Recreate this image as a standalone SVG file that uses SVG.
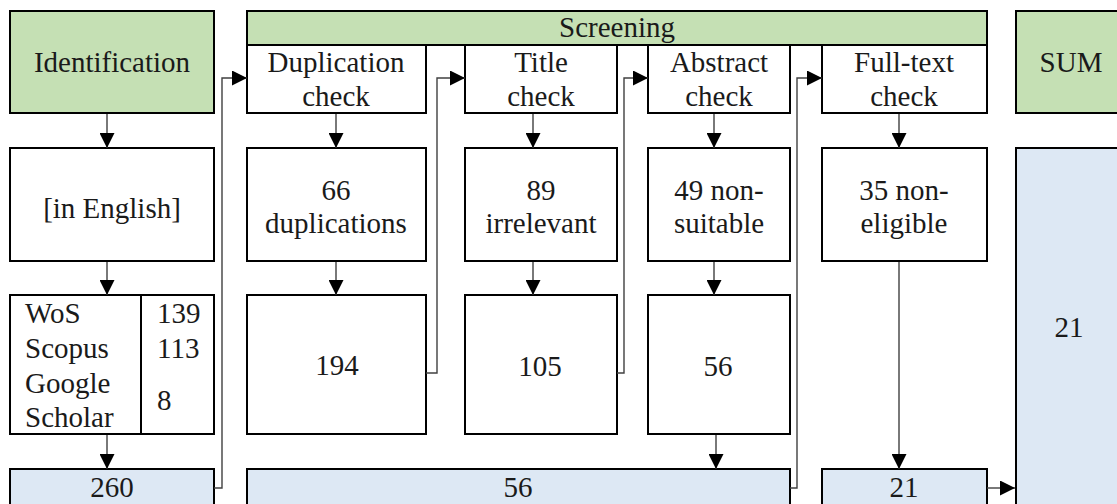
<svg xmlns="http://www.w3.org/2000/svg" width="1117" height="504" viewBox="0 0 1117 504">
  <defs>
    <marker id="arrow" viewBox="0 0 15 15" refX="15" refY="7.5" markerWidth="15" markerHeight="15" markerUnits="userSpaceOnUse" orient="auto">
      <path d="M0,0 L15,7.5 L0,15 Z" fill="#000"/>
    </marker>
    <style>
      .box { stroke: #000; stroke-width: 2; }
      .green { fill: #c5e0b4; }
      .white { fill: #fff; }
      .blue { fill: #dde8f4; }
      text { font-family: 'Liberation Serif', 'Times New Roman', serif; font-size: 29px; fill: #1a1a1a; }
      .c { text-anchor: middle; }
      .link { fill: none; stroke: #404040; stroke-width: 1.4; marker-end: url(#arrow); }
    </style>
  </defs>
  <rect width="1117" height="504" fill="#fff"/>

  <!-- Stage headers -->
  <g id="identification">
    <rect class="box green" x="10" y="11" width="204" height="102"/>
    <text class="c" x="112" y="72">Identification</text>
  </g>
  <g id="screening">
    <rect class="box green" x="247" y="11" width="740" height="34"/>
    <text class="c" x="617" y="37">Screening</text>
  </g>
  <g id="duplication-check">
    <rect class="box white" x="247" y="45" width="179" height="68"/>
    <text class="c" x="336" y="72">Duplication</text>
    <text class="c" x="336" y="106">check</text>
  </g>
  <g id="title-check">
    <rect class="box white" x="465" y="45" width="152" height="68"/>
    <text class="c" x="541" y="72">Title</text>
    <text class="c" x="541" y="106">check</text>
  </g>
  <g id="abstract-check">
    <rect class="box white" x="648" y="45" width="142" height="68"/>
    <text class="c" x="719" y="72">Abstract</text>
    <text class="c" x="719" y="106">check</text>
  </g>
  <g id="fulltext-check">
    <rect class="box white" x="822" y="45" width="165" height="68"/>
    <text class="c" x="904" y="72">Full-text</text>
    <text class="c" x="904" y="106">check</text>
  </g>
  <g id="sum">
    <rect class="box green" x="1016" y="11" width="112" height="102"/>
    <text class="c" x="1071" y="72">SUM</text>
  </g>

  <!-- Criteria / exclusions -->
  <g id="in-english">
    <rect class="box white" x="10" y="148" width="204" height="113"/>
    <text class="c" x="112" y="218">[in English]</text>
  </g>
  <g id="duplications">
    <rect class="box white" x="247" y="148" width="179" height="113"/>
    <text class="c" x="336" y="200">66</text>
    <text class="c" x="336" y="233">duplications</text>
  </g>
  <g id="irrelevant">
    <rect class="box white" x="465" y="148" width="152" height="113"/>
    <text class="c" x="541" y="200">89</text>
    <text class="c" x="541" y="233">irrelevant</text>
  </g>
  <g id="non-suitable">
    <rect class="box white" x="648" y="148" width="142" height="113"/>
    <text class="c" x="719" y="200">49 non-</text>
    <text class="c" x="719" y="233">suitable</text>
  </g>
  <g id="non-eligible">
    <rect class="box white" x="822" y="148" width="165" height="113"/>
    <text class="c" x="904" y="200">35 non-</text>
    <text class="c" x="904" y="233">eligible</text>
  </g>
  <g id="sum-total">
    <rect class="box blue" x="1016" y="148" width="112" height="370"/>
    <text class="c" x="1069" y="337">21</text>
  </g>

  <!-- Record counts -->
  <g id="sources">
    <rect class="box white" x="10" y="295" width="204" height="139"/>
    <line x1="141" y1="295" x2="141" y2="434" stroke="#000" stroke-width="2"/>
    <text x="25" y="323">WoS</text>
    <text x="25" y="358">Scopus</text>
    <text x="25" y="393">Google</text>
    <text x="25" y="427">Scholar</text>
    <text x="157" y="323">139</text>
    <text x="157" y="358">113</text>
    <text x="157" y="410">8</text>
  </g>
  <g id="after-duplication">
    <rect class="box white" x="247" y="295" width="179" height="139"/>
    <text class="c" x="337" y="375">194</text>
  </g>
  <g id="after-title">
    <rect class="box white" x="465" y="295" width="152" height="139"/>
    <text class="c" x="540" y="376">105</text>
  </g>
  <g id="after-abstract">
    <rect class="box white" x="648" y="295" width="142" height="139"/>
    <text class="c" x="718" y="376">56</text>
  </g>

  <!-- Stage totals -->
  <g id="total-identified">
    <rect class="box blue" x="10" y="469" width="204" height="50"/>
    <text class="c" x="112" y="497">260</text>
  </g>
  <g id="total-screened">
    <rect class="box blue" x="247" y="469" width="543" height="50"/>
    <text class="c" x="518" y="497">56</text>
  </g>
  <g id="total-fulltext">
    <rect class="box blue" x="822" y="469" width="165" height="50"/>
    <text class="c" x="904" y="497">21</text>
  </g>

  <!-- Connectors -->
  <g id="connectors">
    <path class="link" d="M107,114 V148"/>
    <path class="link" d="M107,262 V295"/>
    <path class="link" d="M107,435 V469"/>

    <path class="link" d="M336,114 V148"/>
    <path class="link" d="M336,262 V295"/>

    <path class="link" d="M533,114 V148"/>
    <path class="link" d="M533,262 V295"/>

    <path class="link" d="M714,114 V148"/>
    <path class="link" d="M714,262 V295"/>
    <path class="link" d="M716,435 V469"/>

    <path class="link" d="M899,114 V148"/>
    <path class="link" d="M899,262 V469"/>

    <path class="link" d="M214,488 H222 V78 H247"/>
    <path class="link" d="M426,373 H437 V78 H465"/>
    <path class="link" d="M617,373 H624 V78 H648"/>
    <path class="link" d="M790,488 H797 V78 H822"/>
    <path class="link" d="M987,488 H1015"/>
  </g>
</svg>
